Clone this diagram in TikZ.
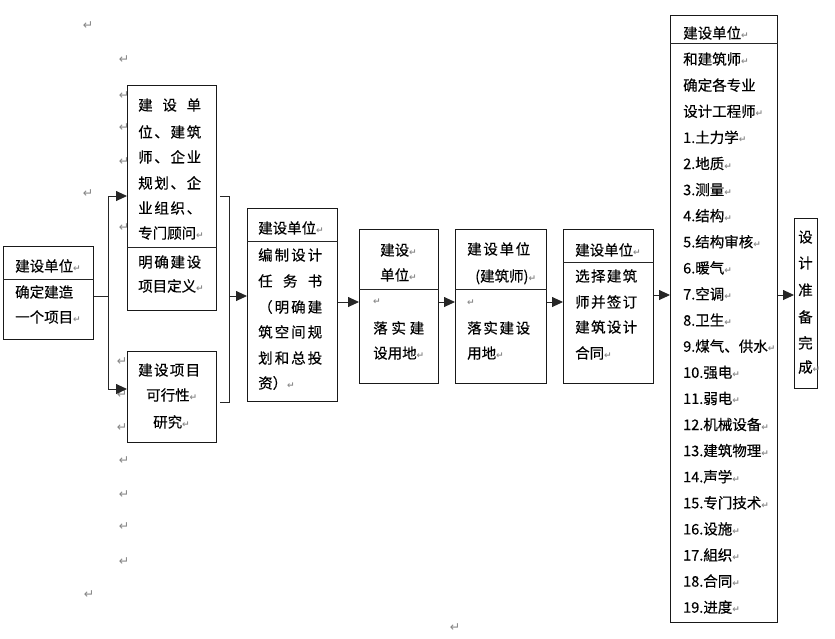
\documentclass[tikz,border=0pt]{standalone}
\usepackage{fontspec}
\newfontfamily\cjk[FakeBold=0.4,AutoFakeBold=0.4]{Noto Sans CJK SC}
\newfontfamily\dvs{DejaVu Sans}
\usetikzlibrary{arrows.meta}
\newcommand\pmk{{\dvs\fontsize{9}{9}\selectfont\textcolor{gray!90}{↵}}}
\newcommand\jl[2]{\makebox[#1][s]{#2}}
\begin{document}
\begin{tikzpicture}[x=1pt,y=-1pt,
  box/.style={draw=black!90, line width=0.9pt, fill=white, inner sep=0pt, anchor=north west},
  txt/.style={font=\cjk\fontsize{14.5}{16}\selectfont\bfseries, inner sep=0pt, anchor=base west, yshift=-5.5pt},
  mk/.style={font=\dvs\fontsize{12.5}{12.5}\selectfont, text=gray!95, inner sep=0pt},
  ln/.style={line width=0.9pt, draw=black!85},
  arr/.style={line width=0.9pt, draw=black!85, -{Triangle[length=11pt,width=10pt]}}]
\useasboundingbox (0,0) rectangle (835,638);
% margin paragraph marks
\foreach \mx/\my [count=\i] in {88/26,124/60,124/96,124/128,124/162,88/194,124/228,122/362,122/395,122/428,124/461,124/495,124/527,124/562,89/595,455/628}
  \node[mk] (pm\i) at (\mx,\my) {↵};
% boxes
\node[box, minimum width=90pt, minimum height=93pt] (A) at (3,246) {};
\node[box, minimum width=89pt, minimum height=225pt] (B) at (127,85) {};
\node[box, minimum width=89pt, minimum height=91pt] (C) at (127,351) {};
\node[box, minimum width=90pt, minimum height=193pt] (D) at (247,208) {};
\node[box, minimum width=79pt, minimum height=154pt] (E) at (359,229) {};
\node[box, minimum width=91pt, minimum height=154pt] (F) at (455,229) {};
\node[box, minimum width=90pt, minimum height=154pt] (G) at (563,229) {};
\node[box, minimum width=107pt, minimum height=607pt] (H) at (670,15) {};
\node[box, minimum width=23pt, minimum height=170pt] (I) at (794,218) {};
% dividers
\draw[ln] (A.west |- 0,279) -- (A.east |- 0,279);
\draw[ln] (B.west |- 0,247) -- (B.east |- 0,247);
\draw[ln] (D.west |- 0,241) -- (D.east |- 0,241);
\draw[ln] (E.west |- 0,289) -- (E.east |- 0,289);
\draw[ln] (F.west |- 0,289) -- (F.east |- 0,289);
\draw[ln] (G.west |- 0,262) -- (G.east |- 0,262);
\draw[ln] (H.west |- 0,43) -- (H.east |- 0,43);
% texts A
\node[txt] (a1) at (15,266) {建设单位\pmk};
\node[txt] (a2) at (15,292) {确定建造};
\node[txt] (a3) at (15,317) {一个项目\pmk};
% texts B
\node[txt] (b1) at (138,105) {\jl{63pt}{建\hfill 设\hfill 单}};
\node[txt] (b2) at (138,132) {\jl{63pt}{位\hfill 、\hfill 建\hfill 筑}};
\node[txt] (b3) at (138,157) {\jl{63pt}{师\hfill 、\hfill 企\hfill 业}};
\node[txt] (b4) at (138,183) {\jl{63pt}{规\hfill 划\hfill 、\hfill 企}};
\node[txt] (b5) at (138,208) {\jl{63pt}{业\hfill 组\hfill 织\hfill 、}};
\node[txt] (b6) at (138,233) {专门顾问\pmk};
\node[txt] (b7) at (138,262) {\jl{63pt}{明\hfill 确\hfill 建\hfill 设}};
\node[txt] (b8) at (138,286) {项目定义\pmk};
% texts C
\node[txt] (c1) at (138,370) {\jl{62pt}{建\hfill 设\hfill 项\hfill 目}};
\node[txt] (c2) at (146,395) {可行性\pmk};
\node[txt] (c3) at (153,422) {研究\pmk};
% texts D
\node[txt] (d1) at (258,228) {建设单位\pmk};
\node[txt] (d2) at (258,255) {\jl{64pt}{编\hfill 制\hfill 设\hfill 计}};
\node[txt] (d3) at (258,281) {\jl{64pt}{任\hfill 务\hfill 书}};
\node[txt] (d4) at (258,307) {\jl{64pt}{（\hfill 明\hfill 确\hfill 建}};
\node[txt] (d5) at (258,332) {\jl{64pt}{筑\hfill 空\hfill 间\hfill 规}};
\node[txt] (d6) at (258,358) {\jl{64pt}{划\hfill 和\hfill 总\hfill 投}};
\node[txt] (d7) at (258,383) {资）\pmk};
% texts E
\node[txt] (e1) at (380,250) {建设\pmk};
\node[txt] (e2) at (380,275) {单位\pmk};
\node[txt] (e3) at (373,299) {\pmk};
\node[txt] (e4) at (373,328) {\jl{51pt}{落\hfill 实\hfill 建}};
\node[txt] (e5) at (373,353) {设用地\pmk};
% texts F
\node[txt] (f1) at (467,249) {\jl{63pt}{建\hfill 设\hfill 单\hfill 位}};
\node[txt] (f2) at (475,276) {(建筑师)\pmk};
\node[txt] (f3) at (467,300) {\pmk};
\node[txt] (f4) at (467,328) {\jl{63pt}{落\hfill 实\hfill 建\hfill 设}};
\node[txt] (f5) at (467,353) {用地\pmk};
% texts G
\node[txt] (g1) at (575,250) {建设单位\pmk};
\node[txt] (g2) at (575,276) {\jl{62pt}{选\hfill 择\hfill 建\hfill 筑}};
\node[txt] (g3) at (575,302) {\jl{62pt}{师\hfill 并\hfill 签\hfill 订}};
\node[txt] (g4) at (575,327) {\jl{62pt}{建\hfill 筑\hfill 设\hfill 计}};
\node[txt] (g5) at (575,353) {合同\pmk};
% texts H
\foreach \t [count=\i from 0] in {建设单位\pmk,和建筑师\pmk,确定各专业,设计工程师\pmk,1.土力学\pmk,2.地质\pmk,3.测量\pmk,4.结构\pmk,5.结构审核\pmk,6.暖气\pmk,7.空调\pmk,8.卫生\pmk,{9.煤气、供水\pmk},10.强电\pmk,11.弱电\pmk,12.机械设备\pmk,13.建筑物理\pmk,14.声学\pmk,15.专门技术\pmk,16.设施\pmk,17.組织\pmk,18.合同\pmk,19.进度\pmk}
  \node[txt] (h\i) at (683,{33+26.1*\i}) {\t};
% texts I
\foreach \t/\yy [count=\i] in {设/237,计/263,准/290,备/317,完/343,成\pmk/367}
  \node[txt] (i\i) at (798,\yy) {\t};
% connectors
\coordinate (j1) at (108,296);
\coordinate (cB) at (108,196);
\coordinate (cC) at (108,389);
\draw[ln] (A.east |- j1) -- (j1);
\draw[ln] (cB) -- (cC);
\draw[arr] (cB) -- (cB -| B.west);
\draw[arr] (cC) -- (cC -| C.west);
\coordinate (k1) at (229,196);
\coordinate (k2) at (229,402);
\coordinate (k0) at (229,296);
\draw[ln] ([xshift=3pt]k1 -| B.east) -- (k1) -- (k2) -- ([xshift=3pt]k2 -| C.east);
\draw[arr] (k0) -- (k0 -| D.west);
\coordinate (r1) at (0,302);
\coordinate (r2) at (0,302);
\coordinate (r3) at (0,295);
\draw[arr] (r1 -| D.east) -- (r1 -| E.west);
\draw[arr] (r2 -| E.east) -- (r2 -| F.west);
\draw[arr] (r2 -| F.east) -- (r2 -| G.west);
\draw[arr] (r3 -| G.east) -- (r3 -| H.west);
\draw[arr] (r3 -| H.east) -- (r3 -| I.west);
\end{tikzpicture}
\end{document}
